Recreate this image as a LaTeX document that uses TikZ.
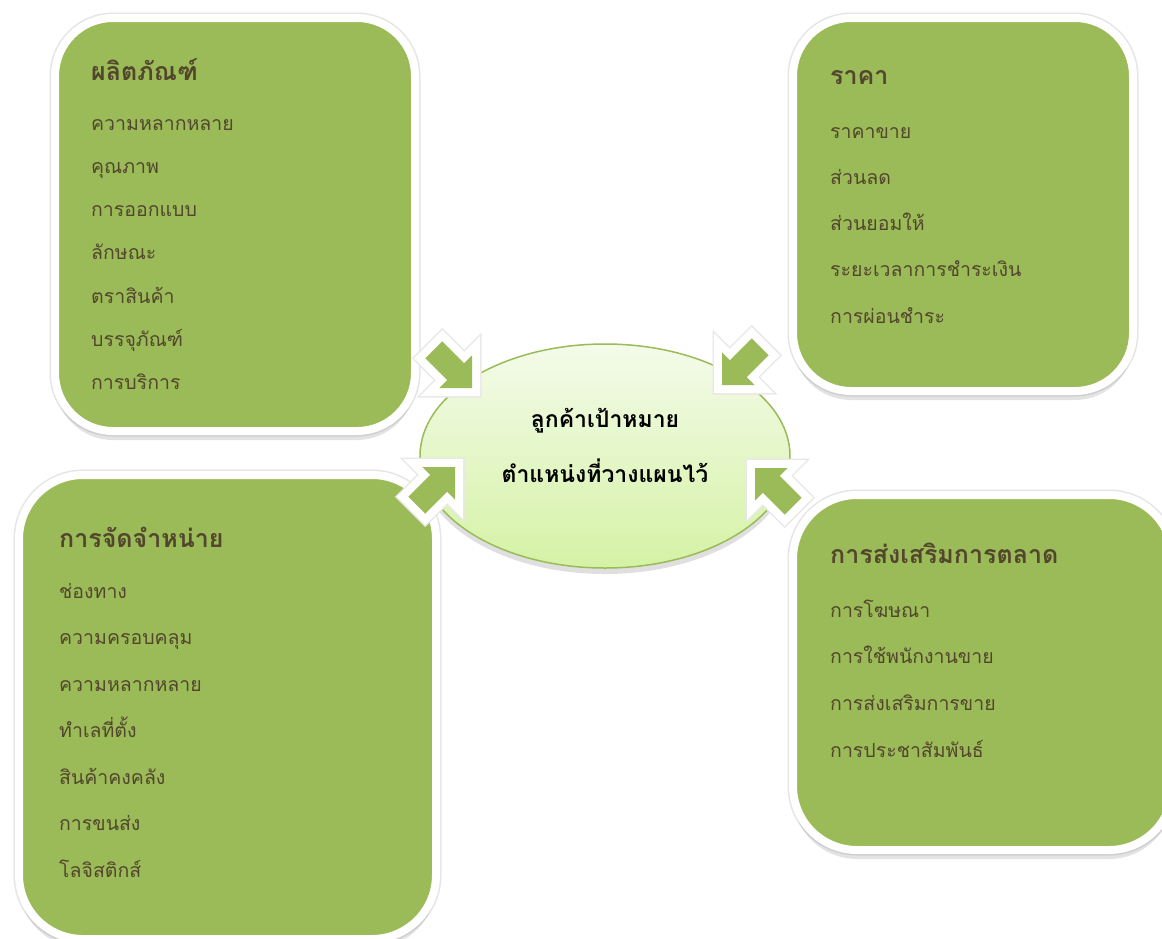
\documentclass[tikz,border=0pt]{standalone}
\usepackage{fontspec}
\setmainfont[Script=Thai]{Loma}
\usetikzlibrary{shapes.geometric,shadows}
\definecolor{boxgreen}{HTML}{9BBB59}
\definecolor{txt}{RGB}{82,70,44}
\definecolor{elltop}{HTML}{F4FBEA}
\definecolor{ellbot}{HTML}{D5F2A5}
\begin{document}
\begin{tikzpicture}[x=1pt,y=-1pt,
  box/.style={draw=white, line width=8pt, fill=boxgreen, rounded corners=58pt,
    anchor=north west, inner sep=0pt,
    preaction={draw=black!10, line width=11pt},
    drop shadow={opacity=0.22, shadow xshift=0pt, shadow yshift=-9pt}},
  item/.style={anchor=base west, text=txt, inner sep=0pt, font=\fontsize{19.5}{22}\selectfont},
  head/.style={anchor=base west, text=txt, inner sep=0pt, font=\fontsize{25}{28}\selectfont\bfseries},
  ctext/.style={anchor=base, inner sep=0pt, font=\fontsize{23}{26}\selectfont\bfseries},
  blockarrow/.pic={
    \path[draw=black!9, line width=19pt, line join=miter,
      drop shadow={opacity=0.2, shadow xshift=2pt, shadow yshift=-3pt}]
      (0,0)--(-23,23)--(-23,12)--(-54,12)--(-54,-12)--(-23,-12)--(-23,-23)--cycle;
    \path[fill=white, draw=white, line width=16pt, line join=miter]
      (0,0)--(-23,23)--(-23,12)--(-54,12)--(-54,-12)--(-23,-12)--(-23,-23)--cycle;
    \fill[boxgreen] (0,0)--(-23,23)--(-23,12)--(-54,12)--(-54,-12)--(-23,-12)--(-23,-23)--cycle;
  }]
\useasboundingbox (0,0) rectangle (1162,938);
\fill[white] (0,0) rectangle (1162,938);

% boxes
\node[box, minimum width=360pt, minimum height=413pt] (b1) at (51,14) {};
\node[box, minimum width=340pt, minimum height=373pt] (b2) at (789,14) {};
\node[box, minimum width=417pt, minimum height=464pt, rounded corners=64pt] (b3) at (15,471) {};
\node[box, minimum width=380pt, minimum height=355pt, rounded corners=64pt] (b4) at (789,491) {};

% box 1
\node[head] (t1) at (91,80) {ผลิตภัณฑ์};
\foreach \t [count=\i] in {ความหลากหลาย,คุณภาพ,การออกแบบ,ลักษณะ,ตราสินค้า,บรรจุภัณฑ์,การบริการ}
  \node[item] (pa\i) at (91,{130+43.3*(\i-1)}) {\t};

% box 2
\node[head] (t2) at (830,84) {ราคา};
\foreach \t [count=\i] in {ราคาขาย,ส่วนลด,ส่วนยอมให้,ระยะเวลาการชำระเงิน,การผ่อนชำระ}
  \node[item] (pb\i) at (830,{138+46.3*(\i-1)}) {\t};

% box 3
\node[head] (t3) at (59,547) {การจัดจำหน่าย};
\foreach \t [count=\i] in {ช่องทาง,ความครอบคลุม,ความหลากหลาย,ทำเลที่ตั้ง,สินค้าคงคลัง,การขนส่ง,โลจิสติกส์}
  \node[item] (pc\i) at (59,{598+46.5*(\i-1)}) {\t};

% box 4
\node[head] (t4) at (830,563) {การส่งเสริมการตลาด};
\foreach \t [count=\i] in {การโฆษณา,การใช้พนักงานขาย,การส่งเสริมการขาย,การประชาสัมพันธ์}
  \node[item] (pd\i) at (830,{617+46.7*(\i-1)}) {\t};

% centre ellipse
\node[ellipse, draw=boxgreen, line width=1.5pt, top color=elltop, bottom color=ellbot,
  minimum width=370pt, minimum height=224pt, inner sep=0pt,
  drop shadow={opacity=0.25, shadow xshift=0pt, shadow yshift=-6pt}] (c) at (605,456) {};
\node[ctext] (c1) at (605,427) {ลูกค้าเป้าหมาย};
\node[ctext] (c2) at (605,482) {ตำแหน่งที่วางแผนไว้};

% arrows
\pic[rotate=-45] at (472,388) {blockarrow};
\pic[rotate=-135] at (722,385) {blockarrow};
\pic[rotate=45] at (455,467) {blockarrow};
\pic[rotate=135] at (755,468) {blockarrow};
\end{tikzpicture}
\end{document}
